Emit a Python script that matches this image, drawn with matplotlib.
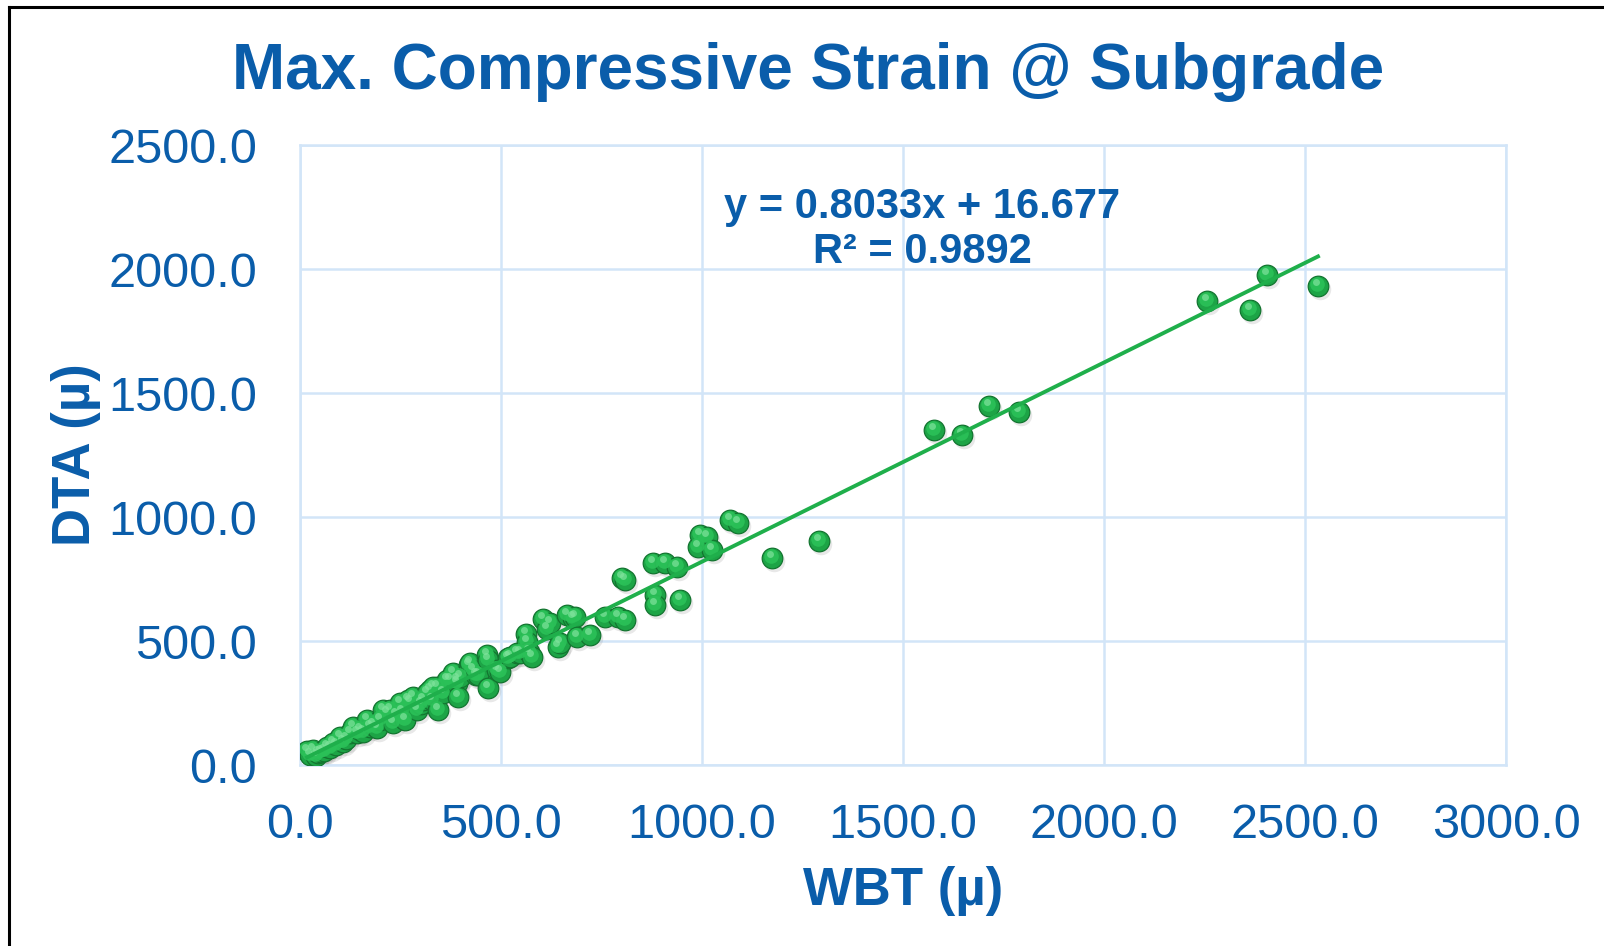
import matplotlib
matplotlib.use("Agg")
import matplotlib.pyplot as plt
import matplotlib.transforms as mtransforms
from matplotlib.lines import Line2D
import numpy as np

# WBT vs DTA compressive strain at top of subgrade (micro-strain)
wbt = [18, 25, 32, 40, 45, 52, 60, 67, 75, 82, 90, 100, 107, 115, 124, 132, 142,
       150, 158, 167, 174, 182, 191, 199, 206, 216, 224, 231, 240, 249, 255, 261,
       269, 274, 281, 291, 300, 306, 316, 323, 328, 331, 341, 343, 355, 366, 373,
       381, 390, 391, 393, 398, 420, 423, 430, 438, 443, 465, 468, 468, 490, 498,
       517, 522, 540, 547, 562, 565, 570, 577, 605, 614, 622, 642, 647, 664, 679,
       684, 689, 721, 759, 791, 801, 808, 808, 878, 883, 883, 908, 938, 945, 990,
       995, 1012, 1025, 1070, 1090, 1174, 1291, 1577, 1647, 1714, 1789, 2256,
       2363, 2405, 2532]
dta = [55, 40, 60, 35, 48, 52, 55, 73, 70, 89, 80, 113, 93, 105, 129, 153, 129,
       140, 133, 181, 153, 160, 149, 181, 222, 210, 222, 169, 200, 250, 215, 181,
       262, 254, 274, 222, 245, 262, 290, 302, 262, 314, 314, 222, 290, 343, 343,
       371, 343, 331, 274, 355, 404, 411, 383, 363, 363, 444, 423, 310, 383, 375,
       431, 435, 452, 452, 528, 496, 456, 435, 590, 549, 572, 476, 492, 605, 594,
       597, 516, 524, 597, 597, 754, 746, 585, 814, 685, 645, 814, 798, 665, 879,
       927, 919, 867, 988, 976, 835, 903, 1351, 1331, 1447, 1423, 1871, 1835,
       1976, 1931]

slope = 0.8033
intercept = 16.677
r2 = 0.9892

blue = "#0A5DAA"
grid = "#D2E5F8"
green = "#1FAF4B"

plt.rcParams['font.family'] = ['Liberation Sans', 'DejaVu Sans']

fig = plt.figure(figsize=(16.04, 9.46), dpi=100)
ax = fig.add_axes([0.187, 0.1913, 0.752, 0.6554])

# soft shadow + ball + highlight so the markers read as spheres
shadow = mtransforms.offset_copy(ax.transData, fig=fig, x=2, y=-3, units='dots')
ax.scatter(wbt, dta, s=240, color='#999999', alpha=0.22, linewidths=0,
           transform=shadow, zorder=2)
ax.scatter(wbt, dta, s=220, color='#1DA446', edgecolors='#137530', linewidths=0.9,
           zorder=3)
hl = mtransforms.offset_copy(ax.transData, fig=fig, x=-1, y=2, units='dots')
ax.scatter(wbt, dta, s=110, color='#2BC158', alpha=0.9, linewidths=0,
           transform=hl, zorder=4)
hl2 = mtransforms.offset_copy(ax.transData, fig=fig, x=-2, y=4, units='dots')
ax.scatter(wbt, dta, s=25, color='#7FE39C', alpha=0.7, linewidths=0,
           transform=hl2, zorder=4)

# linear trendline over the data range
xs = np.array([min(wbt), max(wbt)])
ax.plot(xs, slope * xs + intercept, color=green, lw=2.8, zorder=5)

ax.text(1547, 2160, "y = %.4fx + %.3f\nR² = %.4f" % (slope, intercept, r2),
        ha='center', va='center', multialignment='center', fontsize=30,
        fontweight='bold', color=blue, linespacing=1.15)

ax.set_xlim(0, 3000)
ax.set_ylim(0, 2500)
ax.set_xticks(np.arange(0, 3001, 500))
ax.set_yticks(np.arange(0, 2501, 500))
ax.xaxis.set_major_formatter(matplotlib.ticker.FormatStrFormatter('%.1f'))
ax.yaxis.set_major_formatter(matplotlib.ticker.FormatStrFormatter('%.1f'))
ax.tick_params(axis='both', length=0, labelsize=35, labelcolor=blue)
ax.tick_params(axis='x', pad=27)
ax.tick_params(axis='y', pad=31)
ax.grid(True, color=grid, lw=1.8)
ax.set_axisbelow(True)
for s in ax.spines.values():
    s.set_color(grid)
    s.set_linewidth(1.8)

ax.set_xlabel("WBT (µ)", fontsize=38, fontweight='bold', color=blue)
ax.set_ylabel("DTA (µ)", fontsize=38, fontweight='bold', color=blue)
ax.xaxis.label.set_va('center')
ax.yaxis.label.set_va('center')
ax.xaxis.set_label_coords(0.5, -0.203)
ax.yaxis.set_label_coords(-0.186, 0.5)

fig.text(0.504, 0.924, "Max. Compressive Strain @ Subgrade", ha='center',
         va='center', fontsize=46, fontweight='bold', color=blue)

# outer frame (left and top edges)
fig.add_artist(Line2D([9 / 1604, 9 / 1604], [0, 1 - 7 / 946],
                      transform=fig.transFigure, color='black', lw=2.2))
fig.add_artist(Line2D([9 / 1604, 1], [1 - 7 / 946, 1 - 7 / 946],
                      transform=fig.transFigure, color='black', lw=2.2))

fig.savefig("out.png", dpi=100)
